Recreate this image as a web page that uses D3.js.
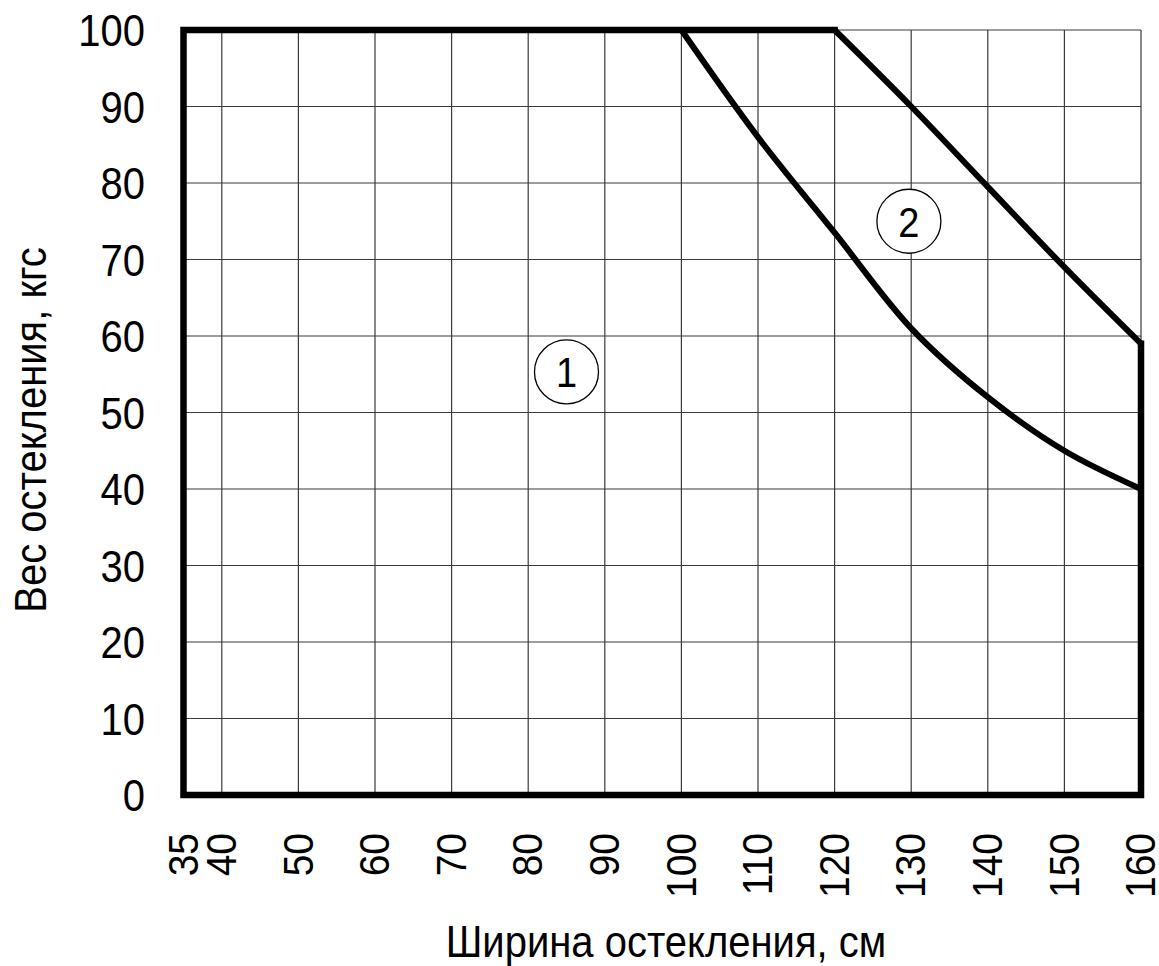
<!DOCTYPE html>
<html>
<head>
<meta charset="utf-8">
<script src="https://cdn.jsdelivr.net/npm/d3@7"></script>
<style>
  html, body { margin: 0; padding: 0; background: #fff; }
  text { font-family: "Liberation Sans", Arial, sans-serif; fill: #000; }
</style>
</head>
<body>
<div id="chart"></div>
<script>
// ticks
const xTicks = [35, 40, 50, 60, 70, 80, 90, 100, 110, 120, 130, 140, 150, 160];
const yTicks = [0, 10, 20, 30, 40, 50, 60, 70, 80, 90, 100];

// outer border of the allowed area (zone 1 + zone 2)
const borderX = [120, 35, 35, 160, 160];
const borderY = [100, 100, 0, 0, 59];

// curve between zone 1 and zone 2
const curve1X = [100, 110, 120, 130, 140, 150, 160];
const curve1Y = [100, 86, 73.5, 61, 52, 45, 40];

// upper limit of zone 2
const curve2X = [120, 130, 140, 150, 160];
const curve2Y = [100, 90, 79.5, 69, 59];

// zone marks
const zoneText = ["1", "2"];
const zoneX = [85, 129.7];
const zoneY = [55.3, 75];

const xTitle = "Ширина остекления, см";
const yTitle = "Вес остекления, кгс";

class Chart {
    constructor(config) {
        this.config = config;
        this.svg = null;
        this.xScale = null;
        this.yScale = null;
        this.createSvg();
        this.createScales();
    }

    createSvg() {
        this.svg = d3.select(this.config.div)
            .append("svg")
            .attr("width", this.config.width)
            .attr("height", this.config.height);
    }

    createScales() {
        this.xScale = d3.scaleLinear().domain([35, 160]).range([183.5, 1141]);
        this.yScale = d3.scaleLinear().domain([0, 100]).range([795, 30]);
    }

    // text slightly stretched vertically like in the original picture
    label(x, y, str, size, anchor, rot, sy) {
        return this.svg.append("text")
            .attr("transform", `translate(${x},${y}) rotate(${rot || 0}) scale(1,${sy || 1.12})`)
            .attr("text-anchor", anchor)
            .attr("dy", "0.36em")
            .style("font-size", size + "px")
            .text(str);
    }

    render() {
        let x = this.xScale, y = this.yScale;

        // grid
        let grid = this.svg.append("g").attr("stroke", "#3a3a3a").attr("stroke-width", 1.2);
        grid.selectAll(".v").data(xTicks).enter().append("line")
            .attr("x1", d => x(d)).attr("x2", d => x(d))
            .attr("y1", y(0)).attr("y2", y(100));
        grid.selectAll(".h").data(yTicks).enter().append("line")
            .attr("x1", x(35)).attr("x2", x(160))
            .attr("y1", d => y(d)).attr("y2", d => y(d));

        // tick labels
        yTicks.forEach(d => this.label(145, y(d), d, 40, "end"));
        xTicks.forEach(d => this.label(x(d) - 1, 833, d, 39, "end", -90, 1.08));

        // axis titles
        this.label(666, 941, xTitle, 40, "middle", 0, 1.1);
        this.label(30, 430, yTitle, 40, "middle", -90);

        // thick lines
        let thick = this.svg.append("g")
            .attr("fill", "none")
            .attr("stroke", "#000")
            .attr("stroke-width", 6.5);

        let straight = d3.line().x(d => x(d[0])).y(d => y(d[1]));
        let smooth = d3.line().x(d => x(d[0])).y(d => y(d[1])).curve(d3.curveCatmullRom.alpha(0.5));

        thick.append("path")
            .attr("stroke-linejoin", "miter")
            .attr("stroke-linecap", "square")
            .attr("d", straight(d3.zip(borderX, borderY)));
        thick.append("path")
            .attr("stroke-width", 6)
            .attr("d", smooth(d3.zip(curve1X, curve1Y)));
        thick.append("path")
            .attr("stroke-width", 6)
            .attr("d", smooth(d3.zip(curve2X, curve2Y)));

        // zone marks
        let zones = this.svg.append("g");
        zoneText.forEach((t, i) => {
            zones.append("circle")
                .attr("cx", x(zoneX[i])).attr("cy", y(zoneY[i]))
                .attr("r", 32)
                .attr("fill", "#fff")
                .attr("stroke", "#000")
                .attr("stroke-width", 1.3);
            this.label(x(zoneX[i]), y(zoneY[i]), t, 38, "middle");
        });
    }
}

let chart = new Chart({ div: "#chart", width: 1159, height: 966 });
chart.render();
</script>
</body>
</html>
